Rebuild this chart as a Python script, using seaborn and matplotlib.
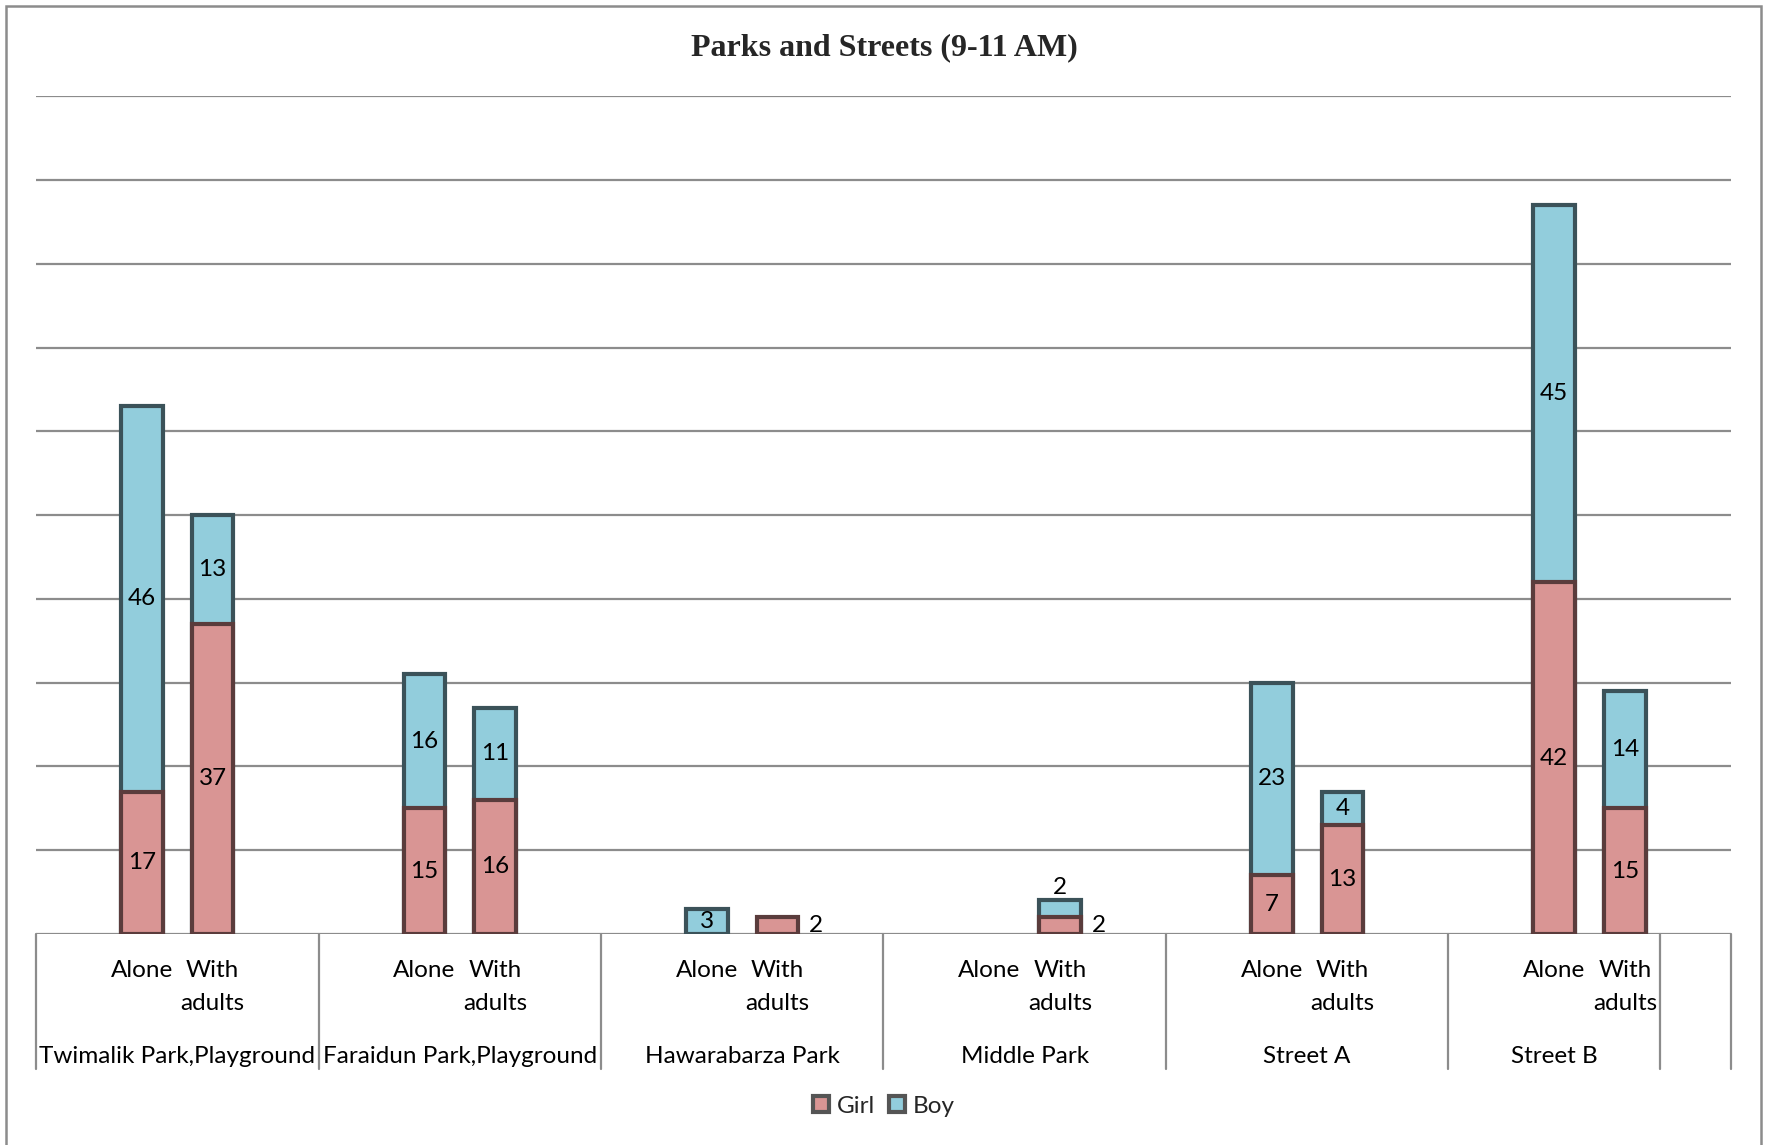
import matplotlib
matplotlib.use("Agg")
import matplotlib.pyplot as plt
from matplotlib.patches import Patch, Rectangle
from matplotlib.lines import Line2D
import seaborn as sns
import pandas as pd

# ---- data ----
places = ["Twimalik Park,Playground", "Faraidun Park,Playground", "Hawarabarza Park",
          "Middle Park", "Street A", "Street B"]
company = ["Alone", "With adults"]
girl_alone = [17, 15, 0, 0, 7, 42]
boy_alone = [46, 16, 3, 0, 23, 45]
girl_with = [37, 16, 2, 2, 13, 15]
boy_with = [13, 11, 0, 2, 4, 14]
series = ["Girl", "Boy"]
title = "Parks and Streets (9-11 AM)"

GIRL_FILL, GIRL_EDGE = "#D99594", "#5a3c3c"
BOY_FILL, BOY_EDGE = "#92CDDC", "#3b5259"
GRID = "#8c8c8c"
FONT = "Lato"

sns.set_theme(style="white")
plt.rcParams["font.family"] = [FONT, "DejaVu Sans"]

# Each place takes four slots on the axis: padding, Alone, With adults, padding
slot_order = []
rows = []
for g, place in enumerate(places):
    slot_order += [f"{g}-pad0", f"{g}-Alone", f"{g}-With", f"{g}-pad1"]
    for kind, girl, boy in (("Alone", girl_alone[g], boy_alone[g]),
                            ("With", girl_with[g], boy_with[g])):
        rows.append(dict(slot=f"{g}-{kind}", place=place, kind=kind,
                         girl=girl, boy=boy, total=girl + boy))
df = pd.DataFrame(rows)

fig = plt.figure(figsize=(17.68, 11.45), dpi=100)
ax = fig.add_axes([0.0204, 0.1843, 0.9586, 0.7317])

bar_w = 0.59
# Stacked bars: the full height in the boy colour, the girl part drawn over it
sns.barplot(data=df[df["boy"] > 0], x="slot", y="total", order=slot_order,
            color=BOY_FILL, saturation=1, errorbar=None, width=bar_w,
            edgecolor=BOY_EDGE, linewidth=3.0, ax=ax)
sns.barplot(data=df[df["girl"] > 0], x="slot", y="girl", order=slot_order,
            color=GIRL_FILL, saturation=1, errorbar=None, width=bar_w,
            edgecolor=GIRL_EDGE, linewidth=3.0, ax=ax)

ax.set_xlim(-0.5, len(slot_order) - 0.5)
ax.set_ylim(0, 100)
ax.set_yticks(range(0, 101, 10))
ax.set_yticklabels([])
ax.set_xticks([])
ax.set_xlabel("")
ax.set_ylabel("")
ax.set_axisbelow(True)
ax.yaxis.grid(True, color=GRID, linewidth=1.6)
ax.tick_params(left=False, bottom=False)
for s in ax.spines.values():
    s.set_visible(False)

# Value labels
lab_kw = dict(fontsize=17.5, color="black", family=[FONT, "DejaVu Sans"])
for _, r in df.iterrows():
    x = slot_order.index(r["slot"])
    g, b = r["girl"], r["boy"]
    if g > 0:
        if g <= 2:
            ax.text(x + 0.55, g / 2, str(g), ha="center", va="center", **lab_kw)
        else:
            ax.text(x, g / 2, str(g), ha="center", va="center", **lab_kw)
    if b > 0:
        if b <= 2:
            ax.text(x, g + b + 0.3, str(b), ha="center", va="bottom", **lab_kw)
        else:
            ax.text(x, g + b / 2, str(b), ha="center", va="center", **lab_kw)

# Two-level category axis
trans = ax.get_xaxis_transform()
for g, place in enumerate(places):
    xa, xw = 4 * g + 1, 4 * g + 2
    ax.text(xa, -0.043, "Alone", transform=trans, ha="center", va="center", **lab_kw)
    ax.text(xw, -0.043, "With", transform=trans, ha="center", va="center", **lab_kw)
    ax.text(xw, -0.083, "adults", transform=trans, ha="center", va="center", **lab_kw)
    left = 4 * g - 0.5
    right = 4 * g + 3.5 if g < len(places) - 1 else 4 * g + 2.5
    ax.text((left + right) / 2, -0.146, place, transform=trans,
            ha="center", va="center", **lab_kw)

dividers = [4 * g - 0.5 for g in range(len(places))] + [4 * len(places) - 1.5,
                                                        4 * len(places) - 0.5]
for xd in dividers:
    ax.add_line(Line2D([xd, xd], [0, -0.161], transform=trans, color=GRID,
                       linewidth=1.6, clip_on=False))

fig.text(0.5, 0.958, title, ha="center", va="center", fontsize=23,
         fontweight="bold", family="Liberation Serif")

handles = [Patch(facecolor=GIRL_FILL, edgecolor="#555555", linewidth=3.0),
           Patch(facecolor=BOY_FILL, edgecolor="#555555", linewidth=3.0)]
fig.legend(handles, series, loc="center", bbox_to_anchor=(0.5, 0.034), ncol=2,
           frameon=False, fontsize=17.5, handlelength=0.65, handleheight=0.65,
           handletextpad=0.3, columnspacing=0.6)

# Outer chart frame
fig.add_artist(Rectangle((6 / 1768, -0.05), (1761 - 6) / 1768, 1.05 - 6 / 1145,
                         transform=fig.transFigure, fill=False,
                         edgecolor=GRID, linewidth=1.8, clip_on=False))

fig.savefig("out.png", dpi=100, facecolor="white")
